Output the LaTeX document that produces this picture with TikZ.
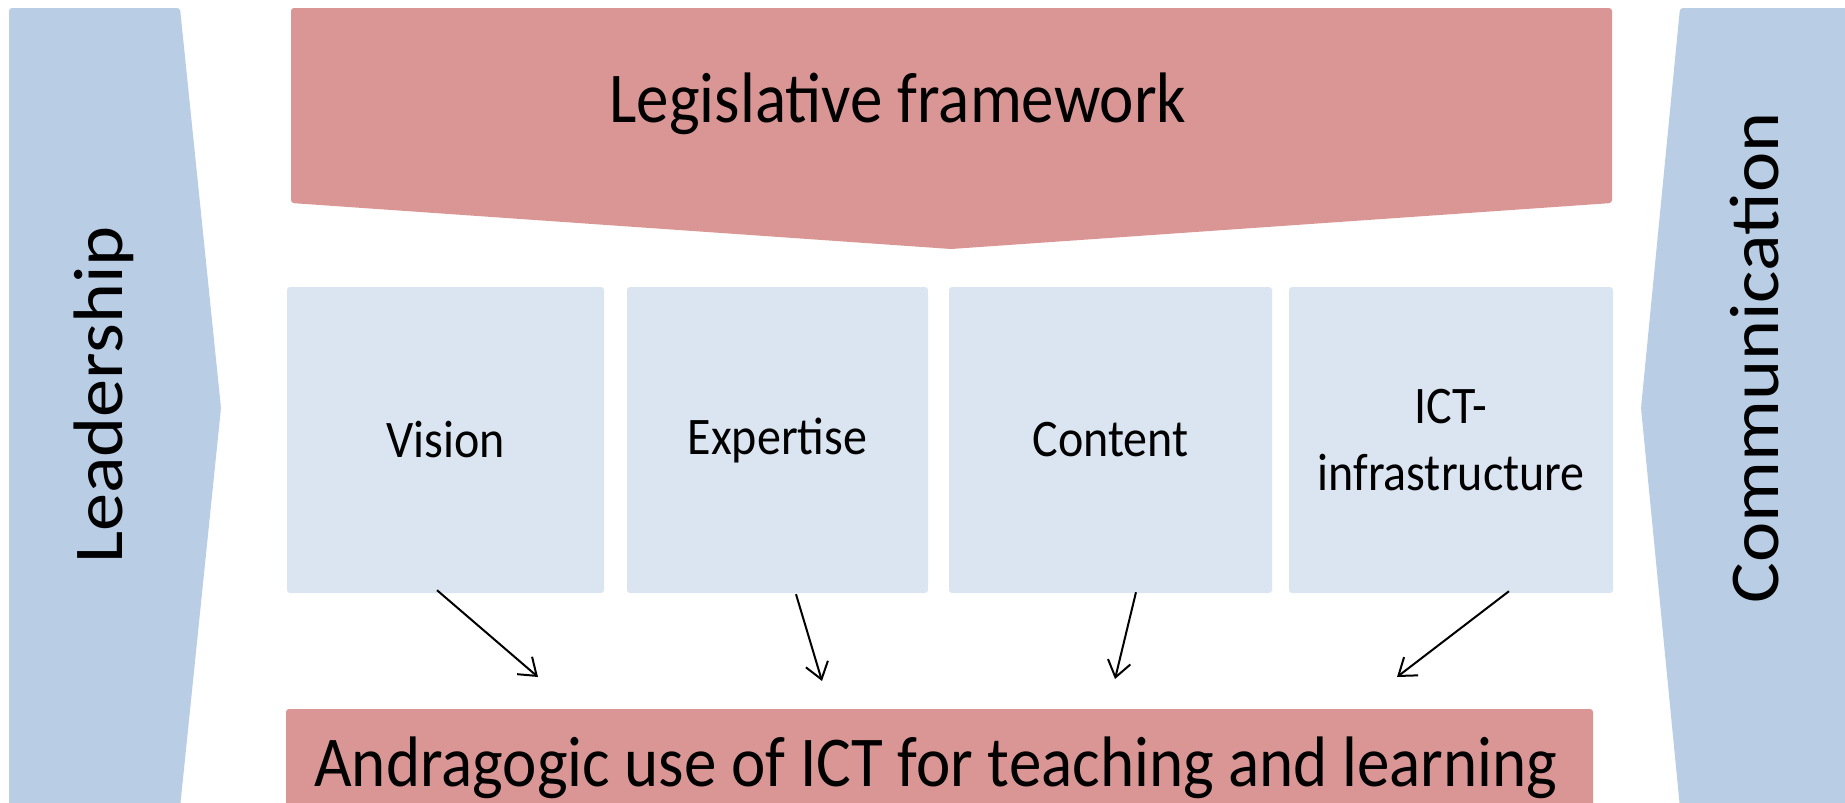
\documentclass[tikz,border=0pt]{standalone}
\usepackage{fontspec}
\setmainfont{Carlito}
\usetikzlibrary{arrows.meta}

\definecolor{legred}{HTML}{D99694}
\definecolor{sideblue}{HTML}{B9CDE5}
\definecolor{boxblue}{HTML}{DBE5F1}
\newcommand{\stretchtxt}[1]{\scalebox{1}[1.1]{#1}}
\newcommand{\longtxt}[1]{\scalebox{1.09}[1]{#1}}

\begin{document}
\begin{tikzpicture}[x=1pt, y=-1pt,
  pillar/.style={fill=boxblue, rounded corners=3, minimum height=306, align=center, font=\fontsize{48}{67}\selectfont},
  bigtext/.style={anchor=base, font=\fontsize{65}{78}\selectfont},
  sidetext/.style={rotate=90, font=\fontsize{70}{84}\selectfont},
  arr/.style={line width=2, -{Straight Barb[length=16, width=23, line width=2]}}]
  \useasboundingbox (0,0) rectangle (1845,803);
  \clip (0,0) rectangle (1845,803);

  %Define shapes
  \fill[sideblue, rounded corners=3] (9,8) -- (180,8) -- (221,408) -- (180,808) -- (9,808) -- cycle;
  \fill[sideblue, rounded corners=3] (1680,8) -- (1860,8) -- (1860,808) -- (1680,808) -- (1641,408) -- cycle;
  \fill[legred, rounded corners=3] (291,8) -- (1612,8) -- (1612,203) -- (951,249) -- (291,203) -- cycle;
  \fill[legred, rounded corners=3] (286,709) rectangle (1593,820);

  %Define nodes
  \node[sidetext] (leader) at (104,395) {\longtxt{Leadership}};
  \node[sidetext] (comm) at (1755,358) {\longtxt{Communication}};
  \node[bigtext] (legis) at (898,122) {\stretchtxt{Legislative framework}};
  \node[bigtext] (andra) at (936,786) {\stretchtxt{Andragogic use of ICT for teaching and learning}};

  \node[pillar, minimum width=317] (vision) at (445.5,440) {\stretchtxt{Vision}};
  \node[pillar, minimum width=301] (expert) at (777.5,440) {\stretchtxt{Expertise}};
  \node[pillar, minimum width=323] (content) at (1110.5,440) {\stretchtxt{Content}};
  \node[pillar, minimum width=324] (ict) at (1451,440) {\stretchtxt{ICT-}\\\stretchtxt{infrastructure}};

  \coordinate (t_1) at (538,677);
  \coordinate (t_2) at (822,681);
  \coordinate (t_3) at (1115,679);
  \coordinate (t_4) at (1397,677);

  % Connect the nodes
  \draw[arr] ([xshift=-8.5, yshift=3]vision.south) -- (t_1);
  \draw[arr] ([xshift=18.5, yshift=-1]expert.south) -- (t_2);
  \draw[arr] ([xshift=25.5, yshift=1]content.south) -- (t_3);
  \draw[arr] ([xshift=58, yshift=2]ict.south) -- (t_4);
\end{tikzpicture}
\end{document}
